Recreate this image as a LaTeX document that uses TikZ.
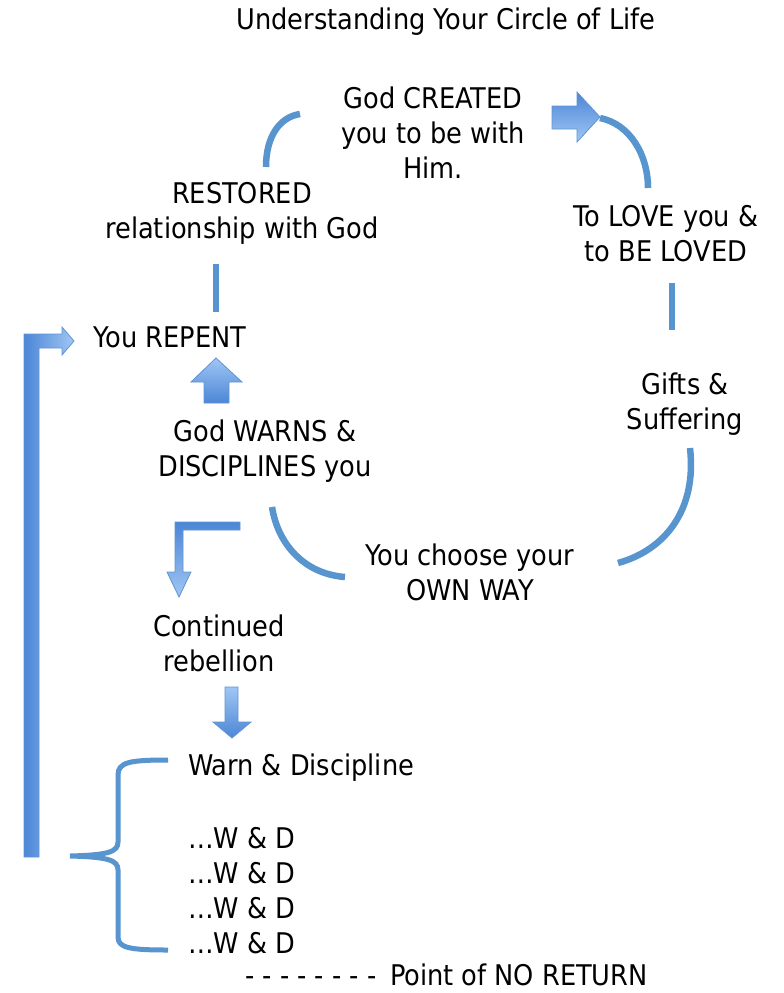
\documentclass[tikz,border=0pt]{standalone}
\usepackage{fontspec}
\setmainfont{DejaVu Sans Condensed}
\definecolor{lineblue}{RGB}{88,148,206}
\definecolor{lightblue}{RGB}{160,198,244}
\definecolor{darkblue}{RGB}{76,134,214}
\definecolor{edgeblue}{RGB}{96,148,210}

\begin{document}
\begin{tikzpicture}[
            x=1pt, y=-1pt,
            every node/.style={
              font=\fontsize{28.5}{35}\selectfont,
              align=center,
              inner sep=0pt,
            },
            cycleline/.style={draw=lineblue, line width=6.5pt},
            blockarrow/.style={draw=edgeblue, line width=0.8pt, line join=miter},
          ]
          \useasboundingbox (0,0) rectangle (784,993);
          % texts
          \node (title) at (446,22) {Understanding Your Circle of Life};
          \node (created) at (433,133) {God CREATED\\you to be with\\Him.};
          \node (love) at (666,234) {To LOVE you \&\\to BE LOVED};
          \node (gifts) at (685,404) {Gifts \&\\Suffering};
          \node (own) at (470,572) {You choose your\\OWN WAY};
          \node (warns) at (265,451) {God WARNS \&\\DISCIPLINES you};
          \node (repent) at (170,337) {You REPENT};
          \node (restored) at (242,213) {RESTORED\\relationship with God};
          \node (rebel) at (219,643) {Continued\\rebellion};
          \node[anchor=west] (warn) at (188,768) {Warn \& Discipline};
          \node[anchor=west] (wd1) at (188,838) {…W \& D};
          \node[anchor=west] (wd2) at (188,873) {…W \& D};
          \node[anchor=west] (wd3) at (188,908) {…W \& D};
          \node[anchor=west] (wd4) at (188,943) {…W \& D};
          \node[anchor=west] (noreturn) at (245,975) {- - - - - - - -\hspace{14pt}Point of NO RETURN};
          % circle of life
          \draw[cycleline] (266,167) .. controls (266,136) and (280,117) .. (300,114);
          \draw[cycleline] (600,118) .. controls (630,124) and (648,155) .. (648,188);
          \draw[cycleline] (672,283) -- (672,330);
          \draw[cycleline] (690,448) .. controls (697,510) and (665,550) .. (618,563);
          \draw[cycleline] (272,507) .. controls (278,545) and (305,574) .. (345,577);
          \draw[cycleline] (216,264) -- (216,312);
          % block arrows
          \draw[blockarrow, top color=darkblue, bottom color=lightblue]
            (552,106) -- (577,106) -- (577,92) -- (600,117) -- (577,142) -- (577,129) -- (552,129) -- cycle;
          \draw[blockarrow, top color=lightblue, bottom color=darkblue]
            (216,358) -- (242,382) -- (229,382) -- (229,403) -- (204,403) -- (204,382) -- (191,382) -- cycle;
          \draw[blockarrow, top color=darkblue, bottom color=lightblue]
            (240,522) -- (175,522) -- (175,572) -- (167,572) -- (179,597) -- (191,572) -- (183,572) -- (183,530) -- (240,530) -- cycle;
          \draw[blockarrow, top color=lightblue, bottom color=darkblue]
            (225,687) -- (238,687) -- (238,722) -- (251,722) -- (232,738) -- (213,722) -- (225,722) -- cycle;
          \draw[blockarrow, left color=darkblue, right color=lightblue]
            (24,857) -- (24,334) -- (62,334) -- (62,327) -- (74,341) -- (62,355) -- (62,348) -- (39,348) -- (39,857) -- cycle;
          % brace
          \draw[draw=lineblue, line width=5pt]
            (168,760) .. controls (130,760) and (118,762) .. (118,775) -- (118,842)
            .. controls (118,852) and (108,855) .. (70,856)
            .. controls (108,857) and (118,860) .. (118,870) -- (118,937)
            .. controls (118,948) and (130,950) .. (168,950);
          \end{tikzpicture}
\end{document}
